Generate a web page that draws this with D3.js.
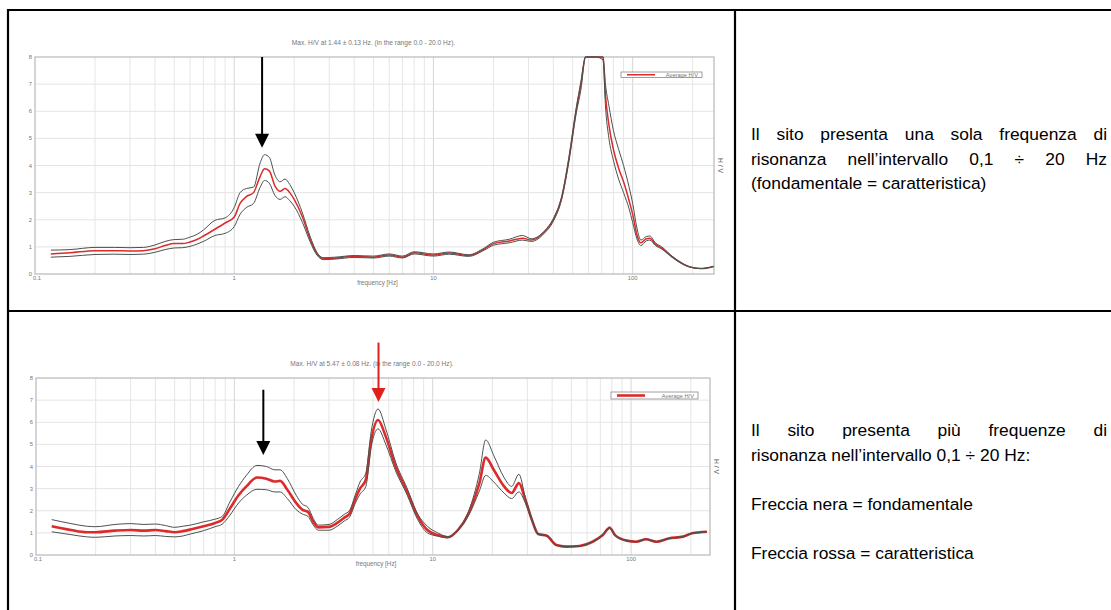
<!DOCTYPE html>
<html><head><meta charset="utf-8">
<script src="https://cdn.jsdelivr.net/npm/d3@7"></script>
<style>
html,body{margin:0;padding:0;background:#fff;}
svg{display:block;}
</style></head>
<body>
<svg id="c" width="1111" height="610"></svg>
<script>
// ---------- DATA ----------
const freq1  = [0.12,0.15,0.2,0.25,0.3,0.35,0.4,0.45,0.5,0.55,0.6,0.65,0.7,0.8,0.9,1.0,1.07,1.15,1.25,1.35,1.42,1.5,1.6,1.7,1.8,1.9,2.0,2.2,2.4,2.6,2.8,3.2,4,5,6,7,8,10,12,15,18,20,24,28,31,36,40,44,48,52,55,58,65,71,73,76,80,85,90,96,100,105,110,117,122,130,140,160,190,220,255];
const mean1  = [0.74,0.78,0.86,0.86,0.85,0.86,0.93,1.05,1.12,1.12,1.18,1.27,1.40,1.65,1.88,2.10,2.60,2.85,3.00,3.60,3.88,3.80,3.25,3.05,3.15,3.00,2.75,2.10,1.30,0.75,0.57,0.58,0.65,0.62,0.70,0.62,0.78,0.70,0.77,0.68,0.92,1.12,1.22,1.32,1.25,1.55,2.00,2.80,4.30,6.00,7.00,8.00,8.00,8.00,6.60,5.50,4.60,3.90,3.40,2.70,2.20,1.45,1.15,1.30,1.32,1.10,0.95,0.60,0.28,0.20,0.28];
const upper1 = [0.88,0.90,0.98,0.98,0.97,0.98,1.07,1.20,1.27,1.28,1.36,1.46,1.62,1.98,2.07,2.45,3.00,3.15,3.20,4.10,4.40,4.30,3.65,3.40,3.50,3.30,3.00,2.25,1.40,0.80,0.60,0.62,0.68,0.66,0.74,0.66,0.82,0.74,0.81,0.71,0.96,1.17,1.28,1.42,1.30,1.58,2.05,2.85,4.35,6.10,7.10,8.00,8.00,8.00,7.00,6.20,5.30,4.60,4.00,3.20,2.60,1.70,1.25,1.38,1.40,1.15,1.00,0.62,0.29,0.20,0.28];
const lower1 = [0.62,0.65,0.72,0.73,0.72,0.73,0.80,0.90,0.96,0.97,1.02,1.10,1.20,1.42,1.50,1.75,2.20,2.45,2.60,3.20,3.45,3.35,2.90,2.75,2.85,2.70,2.50,1.90,1.20,0.70,0.53,0.55,0.61,0.59,0.66,0.59,0.74,0.66,0.73,0.65,0.88,1.06,1.15,1.25,1.20,1.50,1.95,2.75,4.20,5.90,6.80,8.00,8.00,7.90,6.20,5.00,4.20,3.50,3.00,2.40,1.90,1.30,1.05,1.22,1.25,1.05,0.92,0.58,0.27,0.20,0.28];

const freq2  = [0.12,0.15,0.18,0.2,0.25,0.3,0.35,0.4,0.45,0.5,0.55,0.6,0.7,0.8,0.87,0.95,1.05,1.15,1.3,1.45,1.6,1.7,1.85,2.05,2.2,2.35,2.5,2.65,3.0,3.3,3.6,3.8,4.1,4.3,4.6,4.9,5.3,5.8,6.5,7.4,8.4,9.4,10.6,11.9,13.4,15.2,17.2,18.5,20.3,22.9,25,27.2,29.3,31.6,34,37.6,42,47,55,64,72,78,83,95,106,119,134,155,183,203,241];
const mean2  = [1.30,1.13,1.03,1.03,1.10,1.13,1.10,1.13,1.08,1.03,1.08,1.15,1.30,1.45,1.60,2.10,2.70,3.10,3.50,3.45,3.32,3.35,2.95,2.35,2.05,1.95,1.50,1.25,1.27,1.45,1.70,1.85,2.60,3.00,3.40,5.20,6.10,5.35,4.00,2.90,1.75,1.13,0.90,0.80,1.13,1.90,3.25,4.40,3.85,3.10,2.80,3.25,2.50,1.60,0.95,0.87,0.45,0.38,0.41,0.60,0.90,1.23,0.90,0.65,0.60,0.71,0.60,0.75,0.83,0.98,1.05];
const upper2 = [1.60,1.42,1.30,1.28,1.38,1.42,1.38,1.40,1.33,1.25,1.30,1.35,1.50,1.62,1.75,2.40,3.10,3.60,4.05,4.00,3.85,3.85,3.45,2.70,2.30,2.15,1.65,1.35,1.38,1.60,1.85,2.00,2.80,3.30,3.70,5.60,6.60,5.70,4.20,3.05,1.85,1.30,1.00,0.83,1.15,2.00,3.70,5.20,4.50,3.50,3.10,3.65,2.60,1.65,0.97,0.88,0.46,0.39,0.42,0.61,0.92,1.26,0.92,0.66,0.61,0.72,0.61,0.76,0.84,0.99,1.06];
const lower2 = [1.05,0.92,0.82,0.80,0.86,0.88,0.86,0.88,0.84,0.82,0.86,0.95,1.10,1.28,1.40,1.80,2.35,2.70,2.97,2.95,2.85,2.85,2.55,2.05,1.85,1.75,1.35,1.12,1.12,1.30,1.55,1.70,2.40,2.75,3.10,4.90,5.70,5.00,3.80,2.75,1.60,1.00,0.85,0.78,1.10,1.80,2.90,3.60,3.30,2.80,2.55,2.85,2.35,1.55,0.93,0.86,0.44,0.37,0.40,0.59,0.88,1.20,0.88,0.64,0.59,0.70,0.59,0.74,0.82,0.97,1.04];

const yTicks = [0,1,2,3,4,5,6,7,8];
const xTickLabels = [[0.1,"0.1"],[1,"1"],[10,"10"],[100,"100"]];
const titles = ["Max. H/V at 1.44 \u00b1 0.13 Hz. (in the range 0.0 - 20.0 Hz).",
                "Max. H/V at 5.47 \u00b1 0.08 Hz. (in the range 0.0 - 20.0 Hz)."];
const legendLabel = "Average H/V";
const xLabel = "frequency [Hz]";
const yLabel = "H / V";
// arrows: [frequency, top value, tip value, colour]
const arrows1 = [[1.38, 8.0, 4.65, "#000"]];
const arrows2 = [[1.40, 7.47, 4.52, "#000"], [5.33, 9.6, 6.92, "#e0201b"]];

const text1 = [["Il sito presenta una sola frequenza di", true],
               ["risonanza nell\u2019intervallo 0,1 \u00f7 20 Hz", true],
               ["(fondamentale = caratteristica)", false]];
const text2 = [["Il sito presenta pi\u00f9 frequenze di", true],
               ["risonanza nell\u2019intervallo 0,1 \u00f7 20 Hz:", false],
               ["", false],
               ["Freccia nera = fondamentale", false],
               ["", false],
               ["Freccia rossa = caratteristica", false]];

// ---------- DRAW ----------
const svg = d3.select("#c");
svg.append("rect").attr("width",1111).attr("height",610).attr("fill","#fff");

const defs = svg.append("defs");

function chart(cfg){
  const {id, x0, x1, y0, y1, fmax, freq, mean, upper, lower, title, arrows, redW, legBox, titleY} = cfg;
  const x = d3.scaleLog().domain([0.1, fmax]).range([x0, x1]);
  const y = d3.scaleLinear().domain([0, 8]).range([y1, y0]);
  const g = svg.append("g");
  defs.append("clipPath").attr("id", id).append("rect")
     .attr("x", x0).attr("y", y0-1).attr("width", x1-x0).attr("height", y1-y0+1);

  // grid
  const vt = x.ticks().filter(t => t > 0.1 && t < fmax);
  g.selectAll(null).data(vt).join("line")
    .attr("x1", d=>x(d)).attr("x2", d=>x(d)).attr("y1", y0).attr("y2", y1)
    .attr("stroke", d => [1,10,100].includes(+d.toPrecision(3)) ? "#d6d6d6" : "#e6e6e6").attr("stroke-width",1);
  g.selectAll(null).data(yTicks.slice(1,-1)).join("line")
    .attr("x1", x0).attr("x2", x1).attr("y1", d=>y(d)).attr("y2", d=>y(d))
    .attr("stroke","#e4e4e4").attr("stroke-width",1);

  // frame
  g.append("rect").attr("x",x0).attr("y",y0).attr("width",x1-x0).attr("height",y1-y0)
    .attr("fill","none").attr("stroke","#bdbdbd").attr("stroke-width",1.3);

  // axis labels
  const lab = {"font-family":"Liberation Sans, Arial, sans-serif","font-size":"5.8px","fill":"#777"};
  const yt = g.selectAll(null).data(yTicks).join("text")
    .attr("x", x0-3).attr("y", d=>y(d)+2).attr("text-anchor","end").text(d=>d);
  Object.entries(lab).forEach(([k,v])=>yt.attr(k,v));
  const xt = g.selectAll(null).data(xTickLabels).join("text")
    .attr("x", d=>x(d[0])+ (d[0]===0.1?2:0)).attr("y", y1+6).attr("text-anchor","middle").text(d=>d[1]);
  Object.entries(lab).forEach(([k,v])=>xt.attr(k,v));
  const xl = g.append("text").attr("x", (x0+x1)/2+3).attr("y", y1+11).attr("text-anchor","middle").text(xLabel);
  Object.entries(lab).forEach(([k,v])=>xl.attr(k,v));
  xl.attr("font-size","6.3px");
  const ttl = g.append("text").attr("x", (x0+x1)/2+ -1).attr("y", titleY).attr("text-anchor","middle").text(title);
  Object.entries(lab).forEach(([k,v])=>ttl.attr(k,v));
  ttl.attr("font-size","6.6px");
  const yl = g.append("text").attr("transform",`translate(${x1+4},${(y0+y1)/2}) rotate(90)`)
    .attr("text-anchor","middle").text(yLabel);
  Object.entries(lab).forEach(([k,v])=>yl.attr(k,v));
  yl.attr("font-size","6.8px").attr("fill","#555");

  // lines (average first, the two bounds on top of it)
  const line = arr => d3.line().curve(d3.curveMonotoneX).x((d,i)=>x(freq[i])).y(d=>y(d))(arr);
  const cg = g.append("g").attr("clip-path",`url(#${id})`);
  cg.append("path").attr("d", line(mean)).attr("fill","none").attr("stroke","#dd2a2a").attr("stroke-width",redW);
  cg.append("path").attr("d", line(upper)).attr("fill","none").attr("stroke","#4a524f").attr("stroke-width",1);
  cg.append("path").attr("d", line(lower)).attr("fill","none").attr("stroke","#4a524f").attr("stroke-width",1);

  // legend
  const [lx0, ly0, lx1, ly1, lineEnd] = legBox;
  g.append("rect").attr("x",lx0).attr("y",ly0).attr("width",lx1-lx0).attr("height",ly1-ly0)
    .attr("fill","#fff").attr("stroke","#888").attr("stroke-width",0.8);
  g.append("line").attr("x1",lx0+6).attr("x2",lineEnd).attr("y1",(ly0+ly1)/2).attr("y2",(ly0+ly1)/2)
    .attr("stroke","#dd2a2a").attr("stroke-width",redW);
  const lt = g.append("text").attr("x",lx1-4).attr("y",(ly0+ly1)/2+2).attr("text-anchor","end").text(legendLabel);
  Object.entries(lab).forEach(([k,v])=>lt.attr(k,v));
  lt.attr("font-size","5.7px");

  // arrows
  arrows.forEach(([f, top, tip, col]) => {
    const ax = x(f), yt0 = y(top), yt1 = y(tip);
    g.append("line").attr("x1",ax).attr("x2",ax).attr("y1",yt0).attr("y2",yt1-10)
      .attr("stroke",col).attr("stroke-width",2);
    g.append("path").attr("d",`M${ax-7},${yt1-14}L${ax+7},${yt1-14}L${ax},${yt1}Z`).attr("fill",col);
  });
}

chart({id:"c1", x0:35, x1:714, y0:57, y1:274, fmax:256, freq:freq1, mean:mean1, upper:upper1, lower:lower1,
       title:titles[0], arrows:arrows1, redW:1.5, legBox:[621,72,702,77.5,655], titleY:45});
chart({id:"c2", x0:36, x1:710, y0:378, y1:555, fmax:250, freq:freq2, mean:mean2, upper:upper2, lower:lower2,
       title:titles[1], arrows:arrows2, redW:2.6, legBox:[611,392,698,399,645], titleY:366});

// table borders
const tb = svg.append("g").attr("stroke","#000").attr("stroke-width",2.2);
tb.append("line").attr("x1",7).attr("x2",1111).attr("y1",10).attr("y2",10);
tb.append("line").attr("x1",8).attr("x2",8).attr("y1",9).attr("y2",610);
tb.append("line").attr("x1",7).attr("x2",1111).attr("y1",311).attr("y2",311);
tb.append("line").attr("x1",735).attr("x2",735).attr("y1",9).attr("y2",610);

// right-hand texts
function para(lines, startY){
  const tx0 = 751, tx1 = 1107, lh = 24.5;
  lines.forEach(([s, just], i) => {
    if (!s) return;
    const t = svg.append("text").attr("x",tx0).attr("y",startY + i*lh)
      .attr("font-family","Liberation Sans, Arial, sans-serif").attr("font-size","17.4px").attr("fill","#000")
      .text(s);
    if (just){
      const w = t.node().getComputedTextLength();
      const n = (s.match(/ /g)||[]).length;
      if (n>0) t.attr("word-spacing", ((tx1-tx0)-w)/n);
    }
  });
}
para(text1, 140);
para(text2, 436);
</script>
</body></html>
